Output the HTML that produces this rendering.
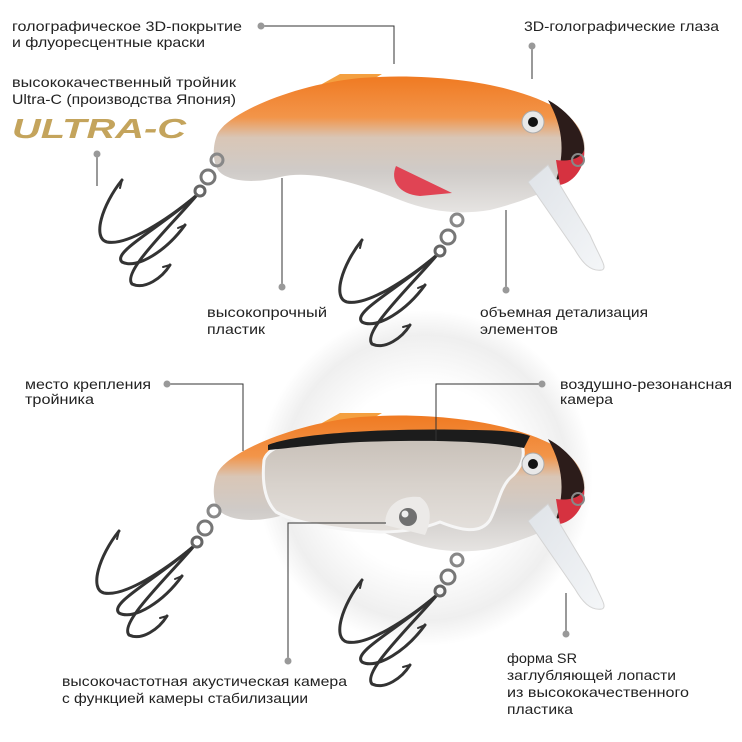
<!DOCTYPE html>
<html><head><meta charset="utf-8"><style>
html,body{margin:0;padding:0;background:#fff;}
svg{display:block;}
text{font-family:"Liberation Sans",sans-serif;font-size:14px;fill:#222;}
</style></head><body>
<svg width="742" height="742" viewBox="0 0 742 742" xmlns="http://www.w3.org/2000/svg">
<defs>
<linearGradient id="body" x1="0" y1="0" x2="0" y2="1">
<stop offset="0" stop-color="#f07a22"/><stop offset="0.3" stop-color="#f2954a"/>
<stop offset="0.45" stop-color="#d9c6b6"/><stop offset="0.7" stop-color="#cfcbc8"/><stop offset="1" stop-color="#e6e4e2"/>
</linearGradient>
<linearGradient id="win" x1="0" y1="0" x2="0" y2="1">
<stop offset="0" stop-color="#c8c0b8"/><stop offset="0.5" stop-color="#d8d2cc"/><stop offset="1" stop-color="#e4e0dc"/>
</linearGradient>
<radialGradient id="halo" cx="0.5" cy="0.5" r="0.5">
<stop offset="0.55" stop-color="#fff"/><stop offset="0.85" stop-color="#efefef"/><stop offset="1" stop-color="#fff"/>
</radialGradient>
<linearGradient id="lip" x1="0" y1="0" x2="1" y2="1"><stop offset="0" stop-color="#dfe3e8"/><stop offset="1" stop-color="#f4f6f8"/></linearGradient>
<g id="hook" fill="none" stroke-linecap="round">
<g stroke="#333" stroke-width="3">
<path d="M-95 20 C-115 45 -125 78 -110 82 C-90 86 -50 60 -20 35"/>
<path d="M-32 65 C-50 90 -80 110 -95 102 C-105 92 -60 70 -20 35"/>
<path d="M-47 105 C-55 118 -72 130 -85 124 C-95 112 -50 70 -20 35"/>
<path d="M-95 20 l-2 8 M-32 65 l-7 3 M-47 105 l-7 2" stroke-width="2"/>
</g>
<circle cx="0" cy="0" r="6" stroke="#888" stroke-width="3"/>
<circle cx="-9" cy="17" r="7" stroke="#777" stroke-width="3"/>
<circle cx="-17" cy="31" r="5" stroke="#666" stroke-width="3"/>
</g>
<g id="lure">
<path d="M322 84 L340 74 L382 74 L362 86z" fill="#f4a040"/>
<path d="M217 135 C225 115 290 85 360 78 C440 72 520 85 560 110 C585 125 590 150 580 165 C565 185 530 200 490 210 C460 215 430 212 400 200 C350 180 310 170 280 177 C250 185 225 180 218 170 C212 160 213 145 217 135z" fill="url(#body)"/>
<path d="M548 100 C575 115 590 140 582 160 C575 172 565 178 556 180 C566 150 562 125 548 100z" fill="#2c1c1a"/>
<path d="M556 160 C570 162 582 158 584 150 C586 165 575 182 560 185z" fill="#d63240"/>
<path d="M528 182 L548 165 L590 235 C600 258 608 268 602 270 C590 272 582 262 575 250z" fill="url(#lip)" stroke="#d4d4d4"/>
<circle cx="578" cy="160" r="6" fill="none" stroke="#888" stroke-width="2"/>
</g>
</defs>
<circle cx="425" cy="478" r="168" fill="url(#halo)"/>
<!-- top lure -->
<use href="#lure"/>
<path d="M452 193 L396 166 C390 180 398 194 420 196z" fill="#e04454"/>
<circle cx="533" cy="122" r="11" fill="#e8e8e8" stroke="#aaa"/><circle cx="533" cy="122" r="5" fill="#111"/>
<use href="#hook" x="217" y="160"/>
<use href="#hook" x="457" y="220"/>
<!-- bottom lure -->
<use href="#lure" y="339"/>
<path d="M264 460 C268 445 300 438 340 438 L520 440 C528 455 520 470 510 478 C500 488 498 505 490 520 C480 535 460 530 440 522 C420 530 400 532 380 532 C340 530 300 525 276 512 C264 500 262 480 264 460z" fill="url(#win)" stroke="#f6f6f6" stroke-width="3"/>
<path d="M268 445 C300 432 400 428 470 430 C500 430 520 432 530 436 L524 448 C480 440 420 440 360 442 C320 444 290 448 268 450z" fill="#1c1c1c"/>
<path d="M385 525 C385 505 400 495 420 497 C432 505 432 520 425 535z" fill="#eceae8"/>
<circle cx="408" cy="517" r="9" fill="#707070"/><circle cx="405" cy="514" r="3.5" fill="#eee"/>
<circle cx="533" cy="464" r="11" fill="#e8e8e8" stroke="#aaa"/><circle cx="533" cy="464" r="5" fill="#111"/>
<use href="#hook" x="214" y="511"/>
<use href="#hook" x="457" y="560"/>
<!-- logo -->
<text x="12" y="138" style="font-size:28px;font-weight:bold;font-style:italic;fill:#c4a45c" textLength="174" lengthAdjust="spacingAndGlyphs">ULTRA-C</text>
<!-- leader lines -->
<g stroke="#333" stroke-width="1" fill="none">
<path d="M261 26 H394 V64"/>
<path d="M532 46 V79"/>
<path d="M97 154 V186"/>
<path d="M282 287 V178"/>
<path d="M506 290 V210"/>
<path d="M167 384 H243 V451"/>
<path d="M542 384 H436 V441"/>
<path d="M288 661 V523 H386"/>
<path d="M566 634 V593"/>
</g>
<g fill="#999">
<circle cx="261" cy="26" r="3.5"/><circle cx="532" cy="46" r="3.5"/><circle cx="97" cy="154" r="3.5"/>
<circle cx="282" cy="287" r="3.5"/><circle cx="506" cy="290" r="3.5"/>
<circle cx="167" cy="384" r="3.5"/><circle cx="542" cy="384" r="3.5"/>
<circle cx="288" cy="661" r="3.5"/><circle cx="566" cy="634" r="3.5"/>
</g>
<!-- labels -->
<text x="12" y="31" textLength="230" lengthAdjust="spacingAndGlyphs">голографическое 3D-покрытие</text>
<text x="12" y="47" textLength="193" lengthAdjust="spacingAndGlyphs">и флуоресцентные краски</text>
<text x="524" y="31" textLength="195" lengthAdjust="spacingAndGlyphs">3D-голографические глаза</text>
<text x="12" y="87" textLength="224" lengthAdjust="spacingAndGlyphs">высококачественный тройник</text>
<text x="12" y="104" textLength="224" lengthAdjust="spacingAndGlyphs">Ultra-C (производства Япония)</text>
<text x="207" y="317" textLength="120" lengthAdjust="spacingAndGlyphs">высокопрочный</text>
<text x="207" y="334" textLength="58" lengthAdjust="spacingAndGlyphs">пластик</text>
<text x="480" y="317" textLength="168" lengthAdjust="spacingAndGlyphs">объемная детализация</text>
<text x="480" y="334" textLength="78" lengthAdjust="spacingAndGlyphs">элементов</text>
<text x="25" y="389" textLength="126" lengthAdjust="spacingAndGlyphs">место крепления</text>
<text x="25" y="404" textLength="69" lengthAdjust="spacingAndGlyphs">тройника</text>
<text x="560" y="389" textLength="172" lengthAdjust="spacingAndGlyphs">воздушно-резонансная</text>
<text x="560" y="404" textLength="53" lengthAdjust="spacingAndGlyphs">камера</text>
<text x="62" y="686" textLength="285" lengthAdjust="spacingAndGlyphs">высокочастотная акустическая камера</text>
<text x="62" y="703" textLength="246" lengthAdjust="spacingAndGlyphs">с функцией камеры стабилизации</text>
<text x="507" y="663" textLength="70" lengthAdjust="spacingAndGlyphs">форма SR</text>
<text x="507" y="680" textLength="169" lengthAdjust="spacingAndGlyphs">заглубляющей лопасти</text>
<text x="507" y="697" textLength="182" lengthAdjust="spacingAndGlyphs">из высококачественного</text>
<text x="507" y="714" textLength="66" lengthAdjust="spacingAndGlyphs">пластика</text>
</svg>
</body></html>
